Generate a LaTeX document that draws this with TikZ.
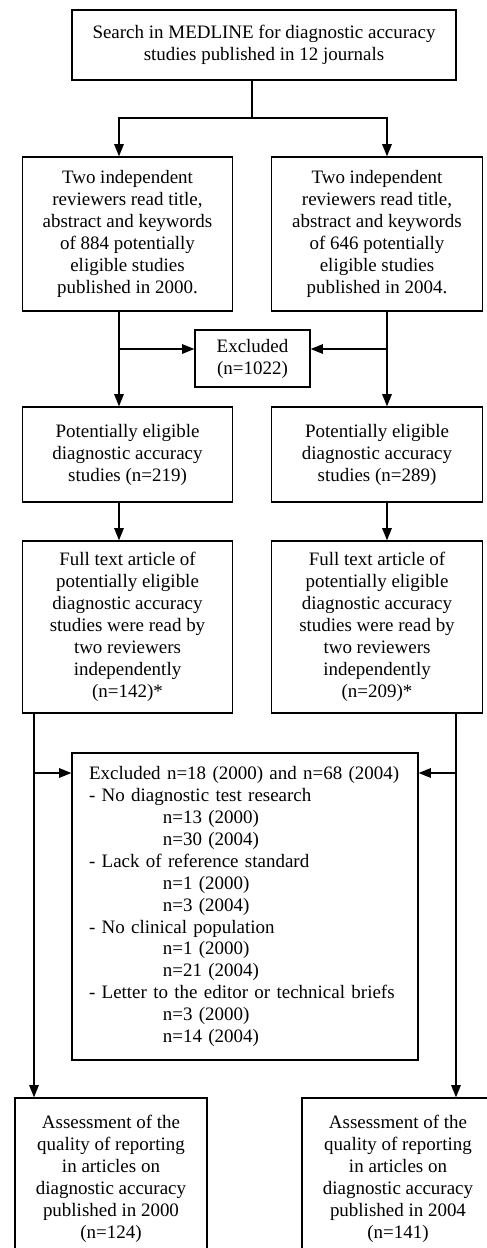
\documentclass[tikz,border=0pt]{standalone}
\usepackage{fontspec}
\setmainfont{Liberation Serif}
\usepackage{tikz}
\usetikzlibrary{arrows.meta,positioning,calc}

\begin{document}
\begin{tikzpicture}[
    x=0.02cm, y=-0.02cm,
    every node/.style={font=\fontsize{10.8}{12.5}\selectfont},
    block/.style={rectangle, draw, line width=0.8pt, align=center, inner sep=0pt},
    colbox/.style={block, minimum width=4.21cm},
    arrow/.style={-{Triangle[length=7pt, width=5.5pt]}, line width=0.6pt},
    line/.style={line width=0.6pt}
]
\useasboundingbox (0,0) rectangle (487,1248);

% Search
\node[block, minimum width=7.68cm, minimum height=1.40cm] (search) at (264,45)
    {Search in MEDLINE for diagnostic accuracy\\studies published in 12 journals};

% Title and abstract screening
\node[colbox, minimum height=3.08cm] (rev2000) at (127.5,234)
    {Two independent\\reviewers read title,\\abstract and keywords\\of 884 potentially\\eligible studies\\published in 2000.};
\node[colbox, minimum height=3.08cm] (rev2004) at (377,234)
    {Two independent\\reviewers read title,\\abstract and keywords\\of 646 potentially\\eligible studies\\published in 2004.};

% First exclusion
\node[block, minimum width=2.30cm, minimum height=1.14cm] (excl1) at (252.5,358.5)
    {Excluded\\(n=1022)};

% Potentially eligible
\node[colbox, minimum height=1.90cm] (elig2000) at (127.5,454.5)
    {Potentially eligible\\diagnostic accuracy\\studies (n=219)};
\node[colbox, minimum height=1.90cm] (elig2004) at (377,454.5)
    {Potentially eligible\\diagnostic accuracy\\studies (n=289)};

% Full text
\node[colbox, minimum height=3.44cm] (full2000) at (127.5,627)
    {Full text article of\\potentially eligible\\diagnostic accuracy\\studies were read by\\two reviewers\\independently\\(n=142)*};
\node[colbox, minimum height=3.44cm] (full2004) at (377,627)
    {Full text article of\\potentially eligible\\diagnostic accuracy\\studies were read by\\two reviewers\\independently\\(n=209)*};

% Second exclusion
\node[block, align=left, text width=6.24cm, inner xsep=0.34cm, minimum height=6.14cm] (excl2) at (245,906.5)
    {Excluded n=18 (2000) and n=68 (2004)\\
     - No diagnostic test research\\
     \hspace*{42pt}n=13 (2000)\\
     \hspace*{42pt}n=30 (2004)\\
     - Lack of reference standard\\
     \hspace*{42pt}n=1 (2000)\\
     \hspace*{42pt}n=3 (2004)\\
     - No clinical population\\
     \hspace*{42pt}n=1 (2000)\\
     \hspace*{42pt}n=21 (2004)\\
     - Letter to the editor or technical briefs\\
     \hspace*{42pt}n=3 (2000)\\
     \hspace*{42pt}n=14 (2004)};

% Quality assessment
\node[block, minimum width=3.84cm, minimum height=3.24cm] (qual2000) at (111,1179)
    {Assessment of the\\quality of reporting\\in articles on\\diagnostic accuracy\\published in 2000\\(n=124)};
\node[block, minimum width=3.84cm, minimum height=3.24cm] (qual2004) at (398,1179)
    {Assessment of the\\quality of reporting\\in articles on\\diagnostic accuracy\\published in 2004\\(n=141)};

% Helper coordinates
\coordinate (split) at (252,118);
\coordinate (colL) at (119,0);
\coordinate (colR) at (387,0);
\coordinate (outL) at (34,0);
\coordinate (outR) at (456,0);
\coordinate (ex1) at (252,349);
\coordinate (ex2) at (245,773);

% Arrows
\draw[line] (search.south -| split) -- (split);
\draw[arrow] (split) -| (colL |- rev2000.north);
\draw[arrow] (split) -| (colR |- rev2004.north);
\draw[arrow] (colL |- rev2000.south) -- (colL |- elig2000.north);
\draw[arrow] (colR |- rev2004.south) -- (colR |- elig2004.north);
\draw[arrow] (colL |- ex1) -- (ex1 -| excl1.west);
\draw[arrow] (colR |- ex1) -- (ex1 -| excl1.east);
\draw[arrow] (colL |- elig2000.south) -- (colL |- full2000.north);
\draw[arrow] (colR |- elig2004.south) -- (colR |- full2004.north);
\draw[arrow] (outL |- full2000.south) -- (outL |- qual2000.north);
\draw[arrow] (outR |- full2004.south) -- (outR |- qual2004.north);
\draw[arrow] (outL |- ex2) -- (ex2 -| excl2.west);
\draw[arrow] (outR |- ex2) -- (ex2 -| excl2.east);

\end{tikzpicture}
\end{document}
